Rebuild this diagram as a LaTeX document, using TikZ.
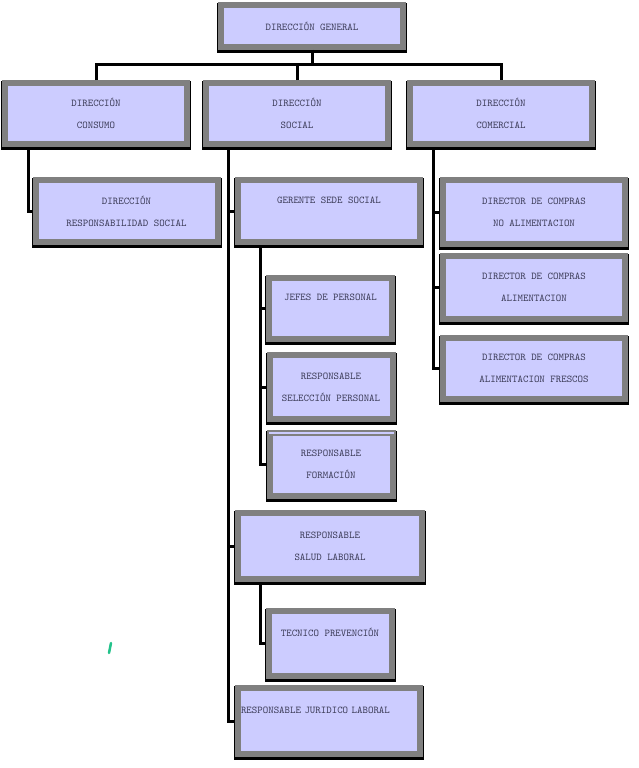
\documentclass[tikz,border=0pt]{standalone}
\usepackage{fontspec}
\definecolor{frame}{HTML}{808080}
\definecolor{boxfill}{HTML}{CCCCFF}
\definecolor{ink}{HTML}{3A3A55}
\definecolor{tickgreen}{HTML}{22C28A}
\tikzset{
  orgbox/.style={draw=frame,fill=boxfill,line width=6pt,inner sep=0pt,align=center,text=ink,font=\ttfamily\fontsize{10.4}{22}\selectfont,
    preaction={draw=black,line width=8pt,transform canvas={yshift=-2pt}}},
  widebox/.style={orgbox,minimum width=182pt,minimum height=62pt},
  smallbox/.style={orgbox,minimum width=123pt,minimum height=64pt},
  link/.style={black,line width=3pt},
}

\begin{document}
\begin{tikzpicture}[x=1pt,y=-1pt]
\useasboundingbox (0,0) rectangle (638,768);
\node[orgbox,minimum width=182pt,minimum height=42pt] (dg) at (312,26) {DIRECCIÓN GENERAL};
\node[widebox,minimum height=61pt] (dc)   at (96,113.5)  {DIRECCIÓN\\CONSUMO};
\node[widebox,minimum height=61pt] (ds)   at (297,113.5) {DIRECCIÓN\\SOCIAL};
\node[widebox,minimum height=61pt] (dcom) at (501,113.5) {DIRECCIÓN\\COMERCIAL};
\node[widebox] (drs)  at (126.5,211) {DIRECCIÓN\\RESPONSABILIDAD SOCIAL};
\node[widebox] (gss)  at (329,211)   {GERENTE SEDE SOCIAL\\~};
\node[widebox,minimum height=64pt] (dcna) at (534,212)   {DIRECTOR DE COMPRAS\\NO ALIMENTACION};
\node[widebox,minimum height=63pt] (dca)  at (534,287.5) {DIRECTOR DE COMPRAS\\ALIMENTACION};
\node[widebox,minimum height=61pt] (dcaf) at (534,368.5) {DIRECTOR DE COMPRAS\\ALIMENTACION FRESCOS};
\node[smallbox,minimum height=61pt] (jp)  at (330.5,308.5) {JEFES DE PERSONAL\\~};
\node[smallbox] (rsp) at (331,387)   {RESPONSABLE\\SELECCIÓN PERSONAL};
\node[smallbox,minimum height=63pt] (rf)  at (331,464.5) {RESPONSABLE\\FORMACIÓN};
\node[widebox,minimum width=184pt,minimum height=66pt] (rsl) at (330,546) {RESPONSABLE\\SALUD LABORAL};
\node[smallbox,minimum height=65pt] (tp)  at (330,643.5) {TECNICO PREVENCIÓN\\~};
\node[widebox,minimum height=66pt,align=left,text width=176pt] (rjl) at (329,721) {RESPONSABLE JURIDICO LABORAL\\~};
\draw[boxfill,line width=1.5pt] ([shift={(2,3)}]rf.north west) -- ([shift={(-2,3)}]rf.north east);
% bus below the top box
\coordinate (bus) at (0,65);
\draw[link] (dg.south) -- (dg.south |- bus);
\draw[link] (dc.north) -- (dc.north |- bus) -- (dcom.north |- bus) -- (dcom.north);
\draw[link] (ds.north) -- (ds.north |- bus);
% trunks
\coordinate (dcT) at (28,0); \coordinate (dsT) at (228,0); \coordinate (subT) at (260,0); \coordinate (dcomT) at (433,0);
\draw[link] (dc.south -| dcT) |- (drs.west);
\draw[link] (ds.south -| dsT) |- (rjl.west);
\foreach \b in {gss,rsl} \draw[link] (dsT |- \b.west) -- (\b.west);
\draw[link] (gss.south -| subT) |- (rf.west);
\foreach \b in {jp,rsp} \draw[link] (subT |- \b.west) -- (\b.west);
\draw[link] (rsl.south -| subT) |- (tp.west);
\draw[link] (dcom.south -| dcomT) |- (dcaf.west);
\foreach \b in {dcna,dca} \draw[link] (dcomT |- \b.west) -- (\b.west);
\draw[tickgreen,line width=2.5pt,line cap=round] (111,643) -- (109,653);
\end{tikzpicture}
\end{document}
